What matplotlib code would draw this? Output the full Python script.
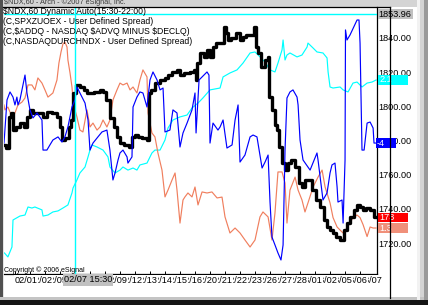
import matplotlib
matplotlib.use('Agg')
import matplotlib.pyplot as plt
from matplotlib.patches import Rectangle
from matplotlib.lines import Line2D
from matplotlib.transforms import blended_transform_factory

plt.rcParams['font.family'] = ['Liberation Sans', 'DejaVu Sans']

# ---------------- data (x = trading day index, y = price-axis units) ----------------
x_labels = ["02/01", "02/02", "02/05", "02/06", "02/07", "02/08", "02/09", "02/12",
            "02/13", "02/14", "02/15", "02/16", "02/20", "02/21", "02/22", "02/23",
            "02/26", "02/27", "02/28", "03/01", "03/02", "03/05", "03/06", "03/07"]
y_ticks = [1720, 1740, 1760, 1780, 1800, 1820, 1840]

cursor_day = 4.0          # 02/07 15:30
cursor_value = 1853.96
cursor_label = "02/07 15:30"

legend_lines = ["$NDX,60 Dynamic Auto(15:30-22:00)",
                "(C,SPXZUOEX - User Defined Spread)",
                "(C,$ADDQ - NASDAQ $ADVQ MINUS $DECLQ)",
                "(C,NASDAQDURCHNDX - User Defined Spread)"]

# SPXZUOEX (cyan)
spx_pts = [(-0.7,1714.2),(-0.47,1711.9),(-0.2,1717.7),(-0.13,1733.5),(0.33,1735.8),(0.67,1736.4),
           (0.87,1741.1),(1.13,1740.5),(1.33,1741.1),(1.8,1739.4),(1.87,1735.8),(2.2,1736.4),
           (2.53,1738.2),(2.87,1738.8),(3.2,1740.5),(3.53,1742.3),(3.8,1749.3),(3.87,1752.2),
           (4.13,1756.9),(4.33,1761.0),(4.67,1764.5),(4.87,1770.4),(5.0,1774.4),(5.13,1777.4),
           (5.47,1776.2),(5.87,1774.4),(6.2,1770.4),(6.33,1764.5),(6.67,1761.0),(7.0,1762.7),
           (7.2,1764.5),(7.53,1762.7),(7.87,1763.9),(8.13,1762.7),(8.33,1765.7),(8.8,1766.8),
           (9.13,1772.7),(9.33,1774.4),(9.67,1774.4),(10.0,1780.3),(10.2,1787.3),(10.53,1792.0),
           (11.0,1793.8),(11.47,1794.9),(11.8,1799.0),(12.2,1801.9),(12.53,1804.9),(13.0,1809.6),
           (13.67,1810.7),(13.87,1817.2),(14.33,1819.5),(14.8,1821.3),(15.2,1825.3),(15.67,1831.2),
           (16.0,1831.8),(16.33,1828.9),(16.67,1825.9),(17.0,1821.3),(17.33,1820.1),(17.53,1825.3),
           (17.8,1833.0),(17.87,1838.8),(18.0,1827.1),(18.13,1830.0),(18.33,1831.2),(18.8,1828.9),
           (19.13,1830.0),(19.47,1834.7),(19.53,1837.0),(19.87,1834.1),(20.13,1831.8),(20.53,1831.2),
           (20.8,1828.3),(20.87,1820.1),(21.0,1811.3),(21.2,1810.7),(21.67,1811.3),(21.87,1809.6),
           (22.2,1808.4),(22.53,1813.6),(22.8,1814.2),(23.13,1811.3),(23.47,1813.6),(23.8,1814.2),
           (24.07,1815.4)]

# $ADDQ (blue)
addq_pts = [(-0.73,1778.5),(-0.53,1803.7),(-0.33,1808.4),(-0.13,1805.4),(0,1800.8),(0.13,1805.4),
            (0.2,1800.8),(0.33,1803.7),(0.67,1818.3),(0.8,1807.8),(1.0,1797.9),(1.2,1793.2),
            (1.47,1796.1),(1.8,1792.0),(1.87,1774.4),(2.13,1774.4),(2.33,1777.4),(2.53,1780.3),
            (2.87,1782.1),(3.13,1779.1),(3.33,1782.1),(3.53,1787.9),(3.8,1799.6),(4.0,1803.7),
            (4.13,1811.3),(4.33,1807.8),(4.67,1801.9),(4.87,1792.0),(5.0,1774.4),(5.2,1778.5),
            (5.53,1782.1),(5.8,1785.0),(6.13,1786.1),(6.33,1774.4),(6.53,1756.9),(6.67,1761.0),
            (6.87,1768.6),(7.0,1772.7),(7.2,1774.4),(7.47,1770.4),(7.53,1766.8),(7.8,1770.4),
            (7.87,1799.6),(8.13,1805.4),(8.33,1808.4),(8.53,1807.8),(8.8,1799.6),(9.0,1815.4),
            (9.2,1820.1),(9.47,1815.4),(9.67,1809.6),(9.87,1810.7),(10.0,1785.0),(10.33,1786.1),
            (10.53,1797.9),(10.8,1796.1),(11.0,1776.2),(11.2,1784.4),(11.47,1790.2),(11.8,1797.9),
            (12.0,1807.8),(12.07,1784.4),(12.27,1815.4),(12.8,1820.1),(12.93,1818.3),(13.0,1778.5),
            (13.2,1790.2),(13.53,1786.1),(13.67,1787.9),(13.87,1792.0),(14.13,1775.6),(14.47,1777.4),
            (14.67,1792.0),(14.87,1800.8),(15.0,1767.4),(15.33,1771.5),(15.67,1782.1),(15.87,1783.2),
            (16.13,1782.1),(16.47,1763.9),(16.67,1767.4),(16.87,1771.5),(17.0,1744.0),(17.13,1723.5),
            (17.33,1718.9),(17.53,1714.2),(17.73,1710.1),(17.87,1718.9),(18.0,1774.4),(18.13,1804.9),
            (18.33,1808.4),(18.53,1809.6),(18.8,1805.4),(18.87,1800.8),(19.0,1780.3),(19.2,1768.6),
            (19.67,1762.7),(20.13,1772.7),(20.2,1768.6),(20.53,1745.2),(20.8,1749.3),(21.0,1761.0),
            (21.13,1765.7),(21.33,1766.8),(21.47,1752.8),(21.53,1744.0),(21.8,1745.2),(21.87,1731.7),
            (22.0,1768.6),(22.03,1844.7),(22.13,1838.8),(22.33,1841.7),(22.8,1850.5),(22.93,1850.5),
            (23.0,1837.0),(23.13,1774.4),(23.27,1774.4),(23.47,1790.2),(23.67,1790.8),(23.87,1787.3),
            (23.93,1778.5),(24.07,1778.5)]

# $NDX 60-min bars (black)
ndx_pts = [(-0.73,1777.4),(-0.53,1775.6),(-0.33,1793.8),(-0.2,1796.1),(0,1786.1),(0.2,1787.9),
           (0.47,1790.2),(0.67,1787.9),(0.87,1793.8),(1.13,1797.9),(1.33,1796.1),(1.53,1796.1),
           (1.8,1796.1),(2.0,1793.8),(2.33,1796.7),(2.67,1796.1),(2.87,1793.8),(3.13,1787.9),
           (3.2,1780.3),(3.47,1781.5),(3.67,1787.9),(3.8,1792.0),(4.0,1807.8),(4.2,1812.5),
           (4.47,1811.3),(4.67,1809.6),(4.87,1807.8),(5.13,1807.8),(5.47,1808.4),(5.8,1809.6),
           (6.0,1808.4),(6.2,1803.7),(6.47,1793.2),(6.67,1787.9),(6.87,1782.1),(7.13,1778.5),
           (7.47,1777.4),(7.67,1776.2),(7.87,1782.1),(8.13,1783.2),(8.33,1782.1),(8.67,1781.5),
           (8.87,1780.3),(9.0,1807.8),(9.2,1809.6),(9.53,1813.6),(9.87,1815.4),(10.13,1816.6),
           (10.33,1818.3),(10.67,1820.1),(10.87,1821.3),(11.13,1818.3),(11.47,1819.5),(11.8,1820.1),
           (12.0,1821.3),(12.13,1815.4),(12.2,1825.3),(12.47,1831.2),(12.67,1828.9),(12.87,1833.0),
           (13.13,1828.9),(13.33,1834.7),(13.53,1837.0),(13.8,1837.0),(14.0,1846.4),(14.13,1842.9),
           (14.33,1838.8),(14.53,1840.0),(14.87,1842.9),(15.13,1838.8),(15.33,1840.6),(15.53,1841.7),
           (15.8,1841.7),(16.0,1846.4),(16.13,1834.7),(16.33,1831.2),(16.53,1823.0),(16.8,1827.1),
           (16.87,1828.9),(17.0,1805.4),(17.2,1797.9),(17.4,1789.1),(17.53,1786.1),(17.67,1776.2),
           (17.87,1766.8),(18.13,1762.7),(18.33,1766.8),(18.53,1768.6),(18.8,1764.5),(19.0,1755.1),
           (19.2,1752.8),(19.47,1756.9),(19.67,1756.9),(19.87,1751.0),(20.2,1745.2),(20.47,1741.1),
           (20.67,1733.5),(20.87,1729.4),(21.13,1727.6),(21.33,1725.9),(21.53,1723.5),(21.8,1721.8),
           (22.0,1727.6),(22.2,1731.7),(22.47,1735.3),(22.67,1739.3),(22.87,1742.3),(23.13,1741.1),
           (23.33,1739.3),(23.53,1740.5),(23.8,1739.3),(24.0,1735.0)]

# NASDAQDURCHNDX (salmon)
durch_pts = [(-0.73,1800.8),(-0.67,1797.9),(-0.47,1799.6),(-0.2,1793.8),(0,1796.1),(0.2,1800.8),
             (0.47,1802.5),(0.67,1804.9),(0.87,1812.5),(1.13,1812.5),(1.33,1809.6),(1.53,1816.6),
             (1.8,1813.6),(2.0,1809.6),(2.2,1805.4),(2.53,1807.8),(2.8,1815.4),(2.93,1825.3),
             (3.07,1831.8),(3.2,1836.5),(3.33,1837.6),(3.47,1834.7),(3.53,1827.1),(3.67,1819.5),
             (3.8,1811.3),(3.87,1803.7),(4.0,1797.9),(4.13,1793.8),(4.33,1786.1),(4.53,1785.0),
             (4.8,1797.9),(5.0,1787.9),(5.2,1790.2),(5.47,1786.1),(5.67,1787.9),(5.87,1792.0),
             (6.13,1787.9),(6.33,1792.0),(6.53,1803.7),(6.8,1809.6),(7.0,1813.6),(7.2,1812.5),
             (7.47,1813.6),(7.67,1809.6),(7.87,1811.3),(8.13,1807.8),(8.33,1815.4),(8.53,1821.3),
             (8.8,1817.2),(8.87,1796.1),(9.13,1784.4),(9.33,1782.1),(9.53,1772.7),(9.8,1762.7),
             (10.0,1747.0),(10.2,1751.0),(10.47,1756.9),(10.67,1761.0),(10.8,1751.0),(11.0,1731.7),
             (11.2,1745.2),(11.33,1747.0),(11.53,1749.3),(11.8,1747.0),(12.0,1752.8),(12.2,1742.3),
             (12.47,1749.9),(12.8,1749.3),(13.13,1749.9),(13.47,1746.4),(13.8,1746.9),(14.0,1735.3),
             (14.33,1725.9),(14.67,1728.8),(15.0,1725.9),(15.33,1721.8),(15.67,1717.7),(16.0,1721.8),
             (16.33,1735.3),(16.53,1738.2),(16.87,1735.3),(17.13,1721.8),(17.33,1737.6),(17.53,1761.6),
             (17.8,1761.6),(18.0,1755.1),(18.13,1731.7),(18.33,1751.0),(18.67,1758.6),(18.87,1751.0),
             (19.13,1745.2),(19.33,1738.2),(19.53,1743.5),(19.87,1752.8),(20.2,1758.6),(20.47,1762.7),
             (20.67,1752.8),(21.0,1743.5),(21.2,1734.9),(21.47,1729.4),(21.67,1727.6),(21.87,1725.9),
             (22.13,1728.8),(22.33,1731.7),(22.53,1734.9),(22.8,1736.4),(23.0,1734.9),(23.2,1730.8),
             (23.47,1723.8),(23.67,1729.4),(23.87,1728.8),(24.07,1728.8)]

value_tags = [("2.1", spx_pts, '#00ffff', 'white'),
              ("-4", addq_pts, '#0000ff', 'white'),
              ("173", ndx_pts, '#ff0000', 'white'),
              ("1.3", durch_pts, '#f0907a', 'white')]

C_CYAN, C_BLUE, C_BLACK, C_SALMON = '#00ffff', '#0000ff', '#000000', '#f07f5e'

# ---------------- figure frame ----------------
W, H = 428, 305
fig = plt.figure(figsize=(W / 100, H / 100), dpi=100)
fig.patch.set_facecolor('#d4d4d4')

def fx(x):
    return x / W

def fy(y):
    return 1 - y / H

def prect(x0, y0, x1, y1, c, z=-5):
    fig.add_artist(Rectangle((fx(x0), fy(y1)), (x1 - x0) / W, (y1 - y0) / H,
                             transform=fig.transFigure, fc=c, ec='none', zorder=z))

prect(3, 7, 417, 297, 'white')
prect(0, 0, 2.5, 300, '#505050')
prect(2.5, 7, 4, 297, '#e4e4e4')
prect(0, 297, 428, 300, '#c4c4c4')
prect(0, 300, 428, 305, '#141414')
prect(417, 0, 420, 300, '#f2f2f2')
prect(424, 0, 428, 300, '#9a9a9a')

ax = fig.add_axes([fx(4), fy(274), (377 - 4) / W, (274 - 7) / H])
ax.set_facecolor('white')

def unz(p):
    return [a for a, b in p], [b for a, b in p]

xs, ys = unz(spx_pts)
ax.plot(xs, ys, color=C_CYAN, lw=0.85, zorder=2)
xs, ys = unz(durch_pts)
ax.plot(xs, ys, color=C_SALMON, lw=0.85, zorder=3)
xs, ys = unz(ndx_pts)
ax.plot(xs, ys, color=C_BLACK, lw=2.4, drawstyle='steps-mid', zorder=4)
xs, ys = unz(addq_pts)
ax.plot(xs, ys, color=C_BLUE, lw=0.85, zorder=5)

# crosshair cursor
ax.axvline(cursor_day, color=C_CYAN, lw=1.0, zorder=6)
ax.axhline(cursor_value, color=C_CYAN, lw=1.0, zorder=6)

for s in ['left', 'top']:
    ax.spines[s].set_visible(False)
for s in ['right', 'bottom']:
    ax.spines[s].set_color('black')
    ax.spines[s].set_linewidth(0.9)

ax.yaxis.tick_right()
ax.set_yticks(y_ticks)
ax.set_yticklabels([f"{v:.2f}" for v in y_ticks])
ax.tick_params(axis='y', length=0, pad=1.2, labelsize=6.6, labelcolor='black')
ax.set_xticks(range(len(x_labels)))
ax.set_xticklabels([])
ax.tick_params(axis='x', length=2, width=0.7, direction='in')

# x tick labels: earlier labels overwrite the start of later ones
xt = ax.get_xaxis_transform()
for i, lab in enumerate(x_labels):
    ax.text(i, -0.0225, lab, transform=xt, ha='left', va='center', fontsize=6.6,
            bbox=dict(boxstyle='square,pad=0.05', fc='white', ec='none'),
            zorder=60 - i, clip_on=False)

# value tags on the right axis
bt = blended_transform_factory(fig.transFigure, ax.transData)
half = 2.75
for txt, pts, fc, tc in value_tags:
    v = pts[-1][1]
    x0 = 376 if txt == "-4" else 378
    w = 20 if txt == "-4" else 30
    ax.add_patch(Rectangle((fx(x0), v - half), w / W, 2 * half, transform=bt,
                           fc=fc, ec='none', zorder=20, clip_on=False))
    ax.text(fx(x0 + 1), v, txt, transform=bt, ha='left', va='center', fontsize=6.6,
            color=tc, zorder=21, clip_on=False)

# cursor value tag
ax.add_patch(Rectangle((fx(377.5), cursor_value - half), 35 / W, 2 * half, transform=bt,
                       fc='#c0c0c0', ec='none', zorder=20, clip_on=False))
ax.text(fx(378), cursor_value, f"{cursor_value:.2f}", transform=bt, ha='left', va='center',
        fontsize=6.6, color='black', zorder=21, clip_on=False)

ax.set_xlim(-0.73, 24.13)
ax.set_ylim(1701.9, 1858.1)

# frame lines
fig.add_artist(Line2D([fx(3), fx(390)], [fy(7), fy(7)], color='black', lw=0.9,
                      transform=fig.transFigure, zorder=5))
fig.add_artist(Line2D([fx(390), fx(390)], [fy(7), fy(298)], color='black', lw=0.9,
                      transform=fig.transFigure, zorder=5))

# cursor time label
fig.text(fx(64), fy(280), cursor_label, ha='left', va='center', fontsize=6.6, color='black',
         bbox=dict(boxstyle='square,pad=0.12', fc='#c0c0c0', ec='none'), zorder=10)

# legend / title texts
for i, line in enumerate(legend_lines):
    fig.text(fx(3), fy([12, 22, 31.5, 41][i]), line, ha='left', va='center', fontsize=6.2,
             color='black', parse_math=False, zorder=8)

fig.text(fx(4), fy(2.5), "$NDX,60 - Arch - \u00a92007 eSignal, Inc.", ha='left', va='center',
         fontsize=5.3, color='#3a3a3a', parse_math=False)
fig.text(fx(4), fy(270), "Copyright \u00a9 2006 eSignal", ha='left', va='center',
         fontsize=5.0, color='black', zorder=8)

fig.savefig('out.png', dpi=100, facecolor=fig.get_facecolor())
